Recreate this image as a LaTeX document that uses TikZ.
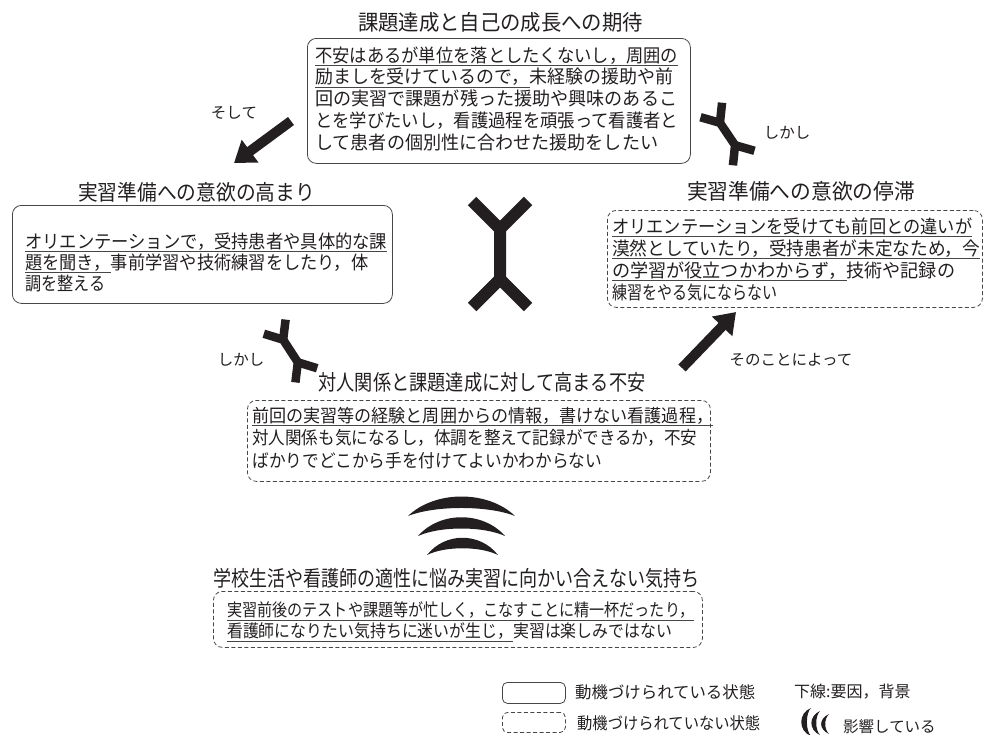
\documentclass[tikz,border=0pt]{standalone}
\usepackage{fontspec}
\setmainfont{Noto Sans CJK JP}
\usepackage{graphicx}
\usetikzlibrary{arrows.meta}
\definecolor{ink}{RGB}{35,31,32}
\definecolor{frame}{RGB}{70,70,70}
\newsavebox\ulbox
\newcommand\ulx[1]{\sbox\ulbox{#1}\rlap{\color{frame}\rule[-4pt]{\wd\ulbox}{0.8pt}}\usebox\ulbox}
\newcommand\fl[2]{\resizebox{#1pt}{\height}{#2}}
\newcommand\fsz[2]{\fontsize{#1pt}{#2pt}\selectfont\lineskiplimit=-30pt\relax}
\newcommand\conflictmark[7]{%
  \begin{scope}[shift={(#1,#2)},rotate=#3,line width=#7pt,line join=miter,line cap=butt,draw=ink]
    \draw (-#5,-#4-#6) -- (0,-#4) -- (0,#4) -- (-#5,#4+#6);
    \draw (#5,-#4-#6) -- (0,-#4);
    \draw (0,#4) -- (#5,#4+#6);
  \end{scope}}
\begin{document}
\begin{tikzpicture}[x=1pt,y=-1pt,
  ttl/.style={inner sep=0pt,anchor=center,text=ink,font=\fsz{21.5}{24}},
  bodytxt/.style={anchor=base west,align=left,inner sep=0pt,text=ink},
  lbl/.style={inner sep=0pt,anchor=center,text=ink,font=\fsz{15.5}{18}},
  sbox/.style={draw=frame,line width=0.8pt,rounded corners=9pt,inner sep=0pt,anchor=north west},
  dbox/.style={sbox,dash pattern=on 4pt off 2.5pt},
  bigarrow/.style={draw=ink,line width=10pt,-{Triangle[length=20pt,width=27pt]}},
  cres/.style={fill=ink,draw=none}]
\useasboundingbox (0,0) rectangle (984,734);

% titles
\node[ttl] (tTop) at (500.5,22) {\fl{285}{課題達成と自己の成長への期待}};
\node[ttl] (tLeft) at (196.5,192) {\fl{237}{実習準備への意欲の高まり}};
\node[ttl] (tRight) at (801,191) {\fl{228}{実習準備への意欲の停滞}};
\node[ttl] (tMid) at (482,382) {\fl{327}{対人関係と課題達成に対して高まる不安}};
\node[ttl] (tBot) at (456.5,578) {\fl{487}{学校生活や看護師の適性に悩み実習に向かい合えない気持ち}};

% boxes
\node[sbox,minimum width=383pt,minimum height=125pt] (bTop) at (307,38) {};
\node[sbox,minimum width=380pt,minimum height=98pt] (bLeft) at (12,205) {};
\node[dbox,minimum width=375pt,minimum height=97pt] (bRight) at (607,210) {};
\node[dbox,minimum width=463pt,minimum height=81pt] (bMid) at (247,400) {};
\node[dbox,minimum width=489pt,minimum height=56pt] (bBot) at (213,591) {};

% box texts (anchored at the baseline of the last line)
\node[bodytxt,font=\fsz{18.5}{21.75}] (xTop) at (315,149) {%
\fl{363}{\ulx{不安はあるが単位を落としたくないし，周囲の}}\\%
\fl{358}{\ulx{励ましを受けているので，}未経験の援助や前}\\%
\fl{362}{回の実習で課題が残った援助や興味のあるこ}\\%
\fl{363}{とを学びたいし，看護過程を頑張って看護者と}\\%
\fl{343}{して患者の個別性に合わせた援助をしたい}};

\node[bodytxt,font=\fsz{18.5}{21}] (xLeft) at (25,290) {%
\fl{362}{\ulx{オリエンテーションで，受持患者や具体的な課}}\\%
\fl{343}{\ulx{題を聞き，}事前学習や技術練習をしたり，体}\\%
\fl{80}{調を整える}};

\node[bodytxt,font=\fsz{18.5}{22}] (xRight) at (612,299) {%
\fl{360}{\ulx{オリエンテーションを受けても前回との違いが}}\\%
\fl{368}{\ulx{漠然としていたり，受持患者が未定なため，今}}\\%
\fl{343}{\ulx{の学習が役立つかわからず，}技術や記録の}\\%
\fl{165}{練習をやる気にならない}};

\node[bodytxt,font=\fsz{18}{22.5}] (xMid) at (252,467) {%
\fl{461}{\ulx{前回の実習等の経験と周囲からの情報，書けない看護過程，}}\\%
\fl{445}{対人関係も気になるし，体調を整えて記録ができるか，不安}\\%
\fl{350}{ばかりでどこから手を付けてよいかわからない}};

\node[bodytxt,font=\fsz{17.5}{21}] (xBot) at (227,637.5) {%
\fl{467}{\ulx{実習前後のテストや課題等が忙しく，こなすことに精一杯だったり，}}\\%
\fl{445}{\ulx{看護師になりたい気持ちに迷いが生じ，}実習は楽しみではない}};

% connector labels
\node[lbl] (lSoshite) at (234,113) {そして};
\node[lbl] (lShikashiA) at (787,133) {しかし};
\node[lbl] (lShikashiB) at (241,360) {しかし};
\node[lbl] (lSonokoto) at (791,360) {そのことによって};

% arrows
\coordinate (aS1) at (291,121);
\coordinate (aS2) at (234,163);
\draw[bigarrow] (aS1) -- (aS2);
\coordinate (aN1) at (682,368);
\coordinate (aN2) at (736,312);
\draw[bigarrow] (aN1) -- (aN2);

% conflict marks
\conflictmark{500}{254}{0}{25}{28}{28}{12}
\conflictmark{727.5}{134}{34}{13.5}{13}{15.5}{8.5}
\conflictmark{290.5}{351}{33}{13.5}{13}{15.5}{8.5}

% influence crescents
\fill[cres] (408,516) .. controls (435,490) and (488,490) .. (515,516)
  .. controls (488,505.3) and (435,505.3) .. (408,516) -- cycle;
\fill[cres] (418,536) .. controls (440,511) and (483,511) .. (505,536)
  .. controls (483,526) and (440,526) .. (418,536) -- cycle;
\fill[cres] (427,555) .. controls (445,532) and (480,532) .. (498,555)
  .. controls (480,546) and (445,546) .. (427,555) -- cycle;

% legend
\node[sbox,rounded corners=5pt,minimum width=63pt,minimum height=21pt] (legS) at (502,682) {};
\node[dbox,rounded corners=5pt,minimum width=63pt,minimum height=20pt] (legD) at (502,712) {};
\node[anchor=west,inner sep=0pt,text=ink,font=\fsz{16.5}{19}] (legST) at (575,692) {\fl{180}{動機づけられている状態}};
\node[anchor=west,inner sep=0pt,text=ink,font=\fsz{16.5}{19}] (legDT) at (577,723) {\fl{183}{動機づけられていない状態}};
\node[anchor=west,inner sep=0pt,text=ink,font=\fsz{16}{19}] (legU) at (794,692) {下線:要因，背景};
\fill[cres] (811,708) .. controls (798,713) and (798,731) .. (811,736)
  .. controls (805.5,731) and (805.5,713) .. (811,708) -- cycle;
\fill[cres] (820,711) .. controls (808.5,716) and (808.5,730) .. (820,735)
  .. controls (815,730) and (815,716) .. (820,711) -- cycle;
\fill[cres] (829,714) .. controls (818.5,719) and (818.5,729) .. (829,734)
  .. controls (824,729) and (824,719) .. (829,714) -- cycle;
\node[anchor=west,inner sep=0pt,text=ink,font=\fsz{15.5}{18}] (legI) at (843,727) {影響している};
\end{tikzpicture}
\end{document}
